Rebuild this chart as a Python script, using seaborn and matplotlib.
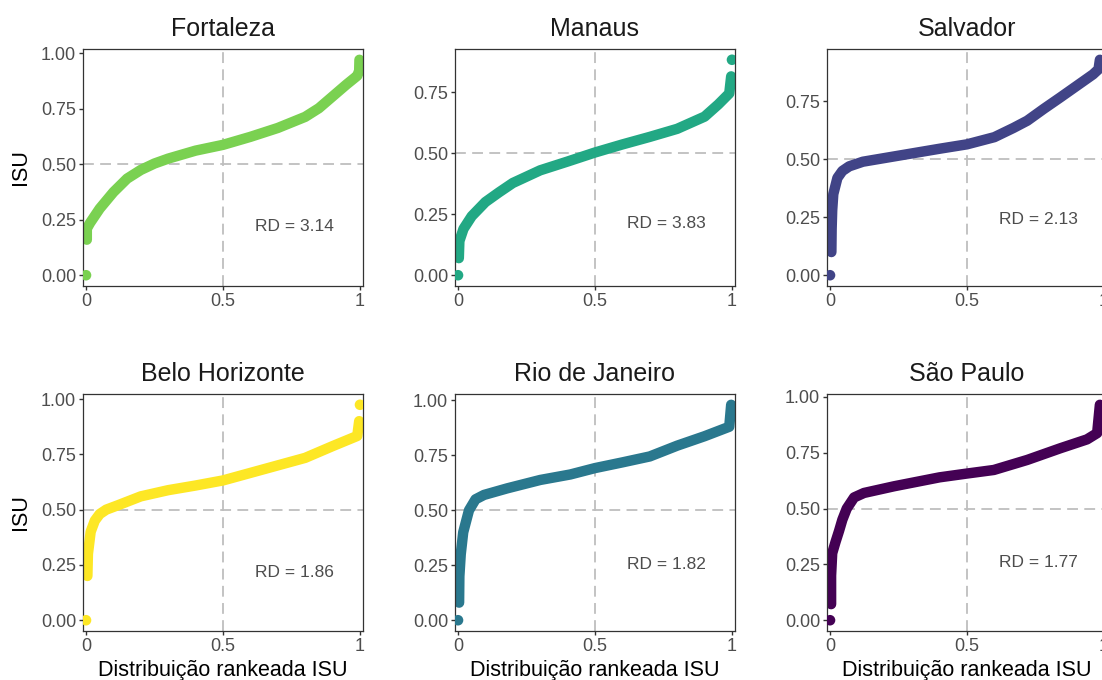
import numpy as np
import pandas as pd
import seaborn as sns
import matplotlib.pyplot as plt
from matplotlib.ticker import MultipleLocator, FormatStrFormatter, FixedLocator, FixedFormatter

# ---------------- data ----------------
cities = ["Fortaleza", "Manaus", "Salvador", "Belo Horizonte", "Rio de Janeiro", "São Paulo"]
rd_values = [3.14, 3.83, 2.13, 1.86, 1.82, 1.77]

fortaleza_rank = [0.003, 0.003, 0.015, 0.05, 0.10, 0.15, 0.20, 0.25, 0.30, 0.40, 0.50, 0.60, 0.70, 0.80, 0.85, 0.90, 0.95, 0.99, 0.997, 0.998]
fortaleza_isu = [0.16, 0.21, 0.236, 0.30, 0.374, 0.435, 0.474, 0.503, 0.525, 0.561, 0.587, 0.623, 0.663, 0.713, 0.752, 0.805, 0.858, 0.898, 0.92, 0.97]
fortaleza_dots_rank = [0.0]
fortaleza_dots_isu = [0.0]

manaus_rank = [0.003, 0.005, 0.02, 0.05, 0.10, 0.15, 0.20, 0.30, 0.40, 0.50, 0.60, 0.70, 0.80, 0.90, 0.95, 0.99, 0.997]
manaus_isu = [0.07, 0.14, 0.19, 0.242, 0.30, 0.34, 0.378, 0.43, 0.466, 0.503, 0.536, 0.567, 0.60, 0.65, 0.70, 0.745, 0.815]
manaus_dots_rank = [0.0, 1.0]
manaus_dots_isu = [0.0, 0.883]

salvador_rank = [0.005, 0.006, 0.008, 0.012, 0.027, 0.045, 0.07, 0.12, 0.17, 0.27, 0.40, 0.50, 0.60, 0.67, 0.72, 0.78, 0.84, 0.90, 0.96, 0.98, 0.985]
salvador_isu = [0.10, 0.20, 0.28, 0.35, 0.42, 0.45, 0.47, 0.49, 0.50, 0.52, 0.546, 0.565, 0.596, 0.636, 0.667, 0.718, 0.767, 0.817, 0.867, 0.889, 0.93]
salvador_dots_rank = [0.0]
salvador_dots_isu = [0.0]

bh_rank = [0.005, 0.007, 0.017, 0.032, 0.05, 0.074, 0.117, 0.20, 0.30, 0.40, 0.50, 0.60, 0.70, 0.80, 0.90, 0.99, 0.997]
bh_isu = [0.20, 0.30, 0.40, 0.45, 0.48, 0.50, 0.52, 0.56, 0.588, 0.609, 0.632, 0.666, 0.70, 0.734, 0.787, 0.833, 0.90]
bh_dots_rank = [0.0, 1.0]
bh_dots_isu = [0.0, 0.974]

rio_rank = [0.004, 0.005, 0.01, 0.019, 0.04, 0.064, 0.095, 0.18, 0.30, 0.41, 0.50, 0.60, 0.70, 0.80, 0.90, 0.99, 0.997]
rio_isu = [0.08, 0.20, 0.30, 0.40, 0.50, 0.55, 0.57, 0.60, 0.638, 0.663, 0.692, 0.718, 0.745, 0.794, 0.837, 0.88, 0.98]
rio_dots_rank = [0.0]
rio_dots_isu = [0.0]

sp_rank = [0.004, 0.004, 0.008, 0.02, 0.033, 0.045, 0.061, 0.088, 0.124, 0.234, 0.40, 0.50, 0.598, 0.72, 0.84, 0.938, 0.975, 0.985]
sp_isu = [0.072, 0.20, 0.30, 0.35, 0.40, 0.45, 0.50, 0.55, 0.57, 0.60, 0.64, 0.657, 0.673, 0.718, 0.77, 0.81, 0.838, 0.965]
sp_dots_rank = [0.0]
sp_dots_isu = [0.0]

colors = ["#7AD151", "#22A884", "#414487", "#FDE725", "#2A788E", "#440154"]

curves = [
    (fortaleza_rank, fortaleza_isu, fortaleza_dots_rank, fortaleza_dots_isu),
    (manaus_rank, manaus_isu, manaus_dots_rank, manaus_dots_isu),
    (salvador_rank, salvador_isu, salvador_dots_rank, salvador_dots_isu),
    (bh_rank, bh_isu, bh_dots_rank, bh_dots_isu),
    (rio_rank, rio_isu, rio_dots_rank, rio_dots_isu),
    (sp_rank, sp_isu, sp_dots_rank, sp_dots_isu),
]

# ---------------- style / layout ----------------
sns.set_theme(style="white")
plt.rcParams['font.family'] = ['Liberation Sans', 'DejaVu Sans']

W, H = 1102, 680
fig = plt.figure(figsize=(W / 100, H / 100), dpi=100)
fig.patch.set_facecolor("white")

col_left = [83, 455, 827]
row_top = [49, 394]
pw, ph = 280, 237
rd_text_y = [0.22, 0.214, 0.24, 0.217, 0.255, 0.26]

border = "#333333"
tick_grey = "#4D4D4D"

for i, city in enumerate(cities):
    r, c = divmod(i, 3)
    left = col_left[c]
    top = row_top[r]
    ax = fig.add_axes([left / W, 1 - (top + ph) / H, pw / W, ph / H])
    rank, isu, drank, disu = curves[i]
    df = pd.DataFrame({"rank": rank, "isu": isu})
    dd = pd.DataFrame({"rank": drank, "isu": disu})

    ax.axhline(0.5, color="#BEBEBE", lw=1.3, ls=(0, (6, 3.5)), zorder=0)
    ax.axvline(0.5, color="#BEBEBE", lw=1.3, ls=(0, (6, 3.5)), zorder=0)

    sns.lineplot(data=df, x="rank", y="isu", ax=ax, color=colors[i], linewidth=7.5,
                 estimator=None, sort=False, solid_capstyle="round",
                 solid_joinstyle="round", zorder=2)
    sns.scatterplot(data=dd, x="rank", y="isu", ax=ax, color=colors[i], s=58,
                    edgecolor="none", linewidth=0, zorder=3)

    all_y = list(isu) + list(disu)
    lo, hi = min(all_y), max(all_y)
    span = hi - lo
    ax.set_ylim(lo - 0.05 * span, hi + 0.05 * span)
    ax.set_xlim(-0.011, 1.011)

    ax.yaxis.set_major_locator(MultipleLocator(0.25))
    ax.yaxis.set_major_formatter(FormatStrFormatter("%.2f"))
    ax.xaxis.set_major_locator(FixedLocator([0, 0.5, 1]))
    ax.xaxis.set_major_formatter(FixedFormatter(["0", "0.5", "1"]))

    ax.tick_params(axis="both", which="major", direction="out", length=3,
                   width=1.0, color=border, labelcolor=tick_grey,
                   labelsize=13, pad=2, bottom=True, left=True)
    for s in ax.spines.values():
        s.set_visible(True)
        s.set_color(border)
        s.set_linewidth(0.9)

    ax.set_xlabel("")
    ax.set_ylabel("")
    ax.grid(False)
    ax.set_title(city, fontsize=18, color="#1A1A1A", pad=9.5)

    ax.text(0.76, rd_text_y[i], f"RD = {rd_values[i]:.2f}", fontsize=12.5,
            color=tick_grey, ha="center", va="center")

# axis titles
for r in range(2):
    yc = row_top[r] + ph / 2
    fig.text(20 / W, 1 - yc / H, "ISU", rotation=90, ha="center", va="center",
             fontsize=15.5, color="black")
for c in range(3):
    xc = col_left[c] + pw / 2
    fig.text(xc / W, 1 - 676 / H, "Distribuição rankeada ISU", ha="center",
             va="baseline", fontsize=15.5, color="black")

fig.savefig("out.png", dpi=100, facecolor="white")
